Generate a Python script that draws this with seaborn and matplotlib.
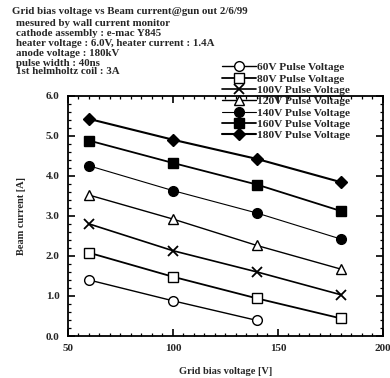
import matplotlib
matplotlib.use("Agg")
import matplotlib.pyplot as plt
import seaborn as sns
import pandas as pd
from matplotlib.ticker import MultipleLocator

sns.set_theme(style="ticks")
plt.rcParams['font.family'] = ['Liberation Serif', 'DejaVu Serif']
plt.rcParams['font.weight'] = 'bold'

grid_bias = [60, 100, 140, 180]
series_names = ["60V Pulse Voltage", "80V Pulse Voltage", "100V Pulse Voltage",
                "120V Pulse Voltage", "140V Pulse Voltage", "160V Pulse Voltage",
                "180V Pulse Voltage"]
v60 = [1.40, 0.88, 0.39]
v80 = [2.08, 1.48, 0.94, 0.44]
v100 = [2.80, 2.13, 1.60, 1.03]
v120 = [3.52, 2.92, 2.26, 1.67]
v140 = [4.25, 3.63, 3.07, 2.42]
v160 = [4.88, 4.32, 3.78, 3.12]
v180 = [5.42, 4.90, 4.42, 3.84]
all_values = [v60, v80, v100, v120, v140, v160, v180]

rows = []
for name, vals in zip(series_names, all_values):
    for xv, yv in zip(grid_bias, vals):
        rows.append({"series": name, "grid": xv, "current": yv})
df = pd.DataFrame(rows)

styles = {
    "60V Pulse Voltage": dict(marker='o', mfc='white', ms=7, lw=1.0),
    "80V Pulse Voltage": dict(marker='s', mfc='white', ms=7.5, lw=1.3),
    "100V Pulse Voltage": dict(marker='x', mfc='black', ms=7.5, lw=1.2, mew=1.3),
    "120V Pulse Voltage": dict(marker='^', mfc='white', ms=7, lw=1.0),
    "140V Pulse Voltage": dict(marker='o', mfc='black', ms=7, lw=0.8),
    "160V Pulse Voltage": dict(marker='s', mfc='black', ms=7.5, lw=1.3),
    "180V Pulse Voltage": dict(marker='D', mfc='black', ms=6.5, lw=1.5),
}

fig = plt.figure(figsize=(3.9, 3.78), dpi=100)
ax = fig.add_axes([0.174, 0.111, 0.808, 0.636])

for name in series_names:
    st = styles[name]
    sub = df[df["series"] == name]
    sns.lineplot(data=sub, x="grid", y="current", ax=ax, color='black',
                 marker=st['marker'], markerfacecolor=st['mfc'],
                 markeredgecolor='black', markersize=st['ms'],
                 markeredgewidth=st.get('mew', 1.0), linewidth=st['lw'],
                 label=name, legend=False)

ax.set_xlim(50, 200)
ax.set_ylim(0, 6)
ax.xaxis.set_major_locator(MultipleLocator(50))
ax.xaxis.set_minor_locator(MultipleLocator(5))
ax.yaxis.set_major_locator(MultipleLocator(1))
ax.yaxis.set_minor_locator(MultipleLocator(0.2))
ax.set_yticklabels([f"{v:.1f}" for v in ax.get_yticks()])
ax.tick_params(which='both', direction='in', top=True, right=True, color='black')
ax.tick_params(which='major', length=5, width=1.2, labelsize=8, pad=6)
ax.tick_params(which='minor', length=2.5, width=0.9)
for sp in ax.spines.values():
    sp.set_linewidth(1.3)
    sp.set_color('black')
ax.set_xlabel("Grid bias voltage [V]", fontsize=7.5, fontweight='bold', labelpad=10)
ax.set_ylabel("Beam current [A]", fontsize=7.5, fontweight='bold', labelpad=14)

handles, labels = ax.get_legend_handles_labels()
fig.legend(handles, labels, loc='upper left', bbox_to_anchor=(0.555, 0.85),
           frameon=False, handlelength=3.0, handletextpad=0.1,
           labelspacing=0.12, borderpad=0, prop={'weight': 'bold', 'size': 8.2})

header = ["Grid bias voltage vs Beam current@gun out 2/6/99",
          "mesured by wall current monitor",
          "cathode assembly : e-mac Y845",
          "heater voltage : 6.0V, heater current : 1.4A",
          "anode voltage : 180kV",
          "pulse width : 40ns",
          "1st helmholtz coil : 3A"]
ys = [12, 23, 33, 43, 53, 63, 71]
for i, (t, yy) in enumerate(zip(header, ys)):
    fig.text((12 if i == 0 else 16) / 390, 1 - yy / 378, t, fontsize=7.8,
             fontweight='bold', va='center', ha='left')

fig.savefig("out.png", dpi=100)
